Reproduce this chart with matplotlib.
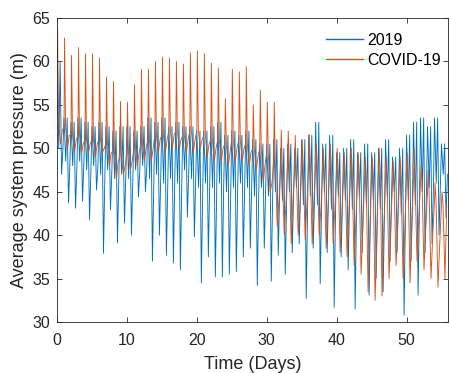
import numpy as np
import matplotlib.pyplot as plt

plt.rcParams['font.family'] = ['Liberation Sans', 'DejaVu Sans']

# per-day readings, days 0..55
days = np.arange(56)

# COVID-19 series: daily spike, base level, daily low, mid level
covid_peak = [64.0, 62.7, 60.7, 61.6, 60.9, 60.9, 60.4, 58.2, 57.7, 55.4,
              55.3, 57.3, 59.1, 59.1, 60.0, 60.5, 60.4, 60.0, 59.7, 61.0,
              61.2, 60.9, 59.8, 59.2, 55.7, 59.1, 58.8, 59.4, 55.0, 56.7,
              55.3, 55.3, 52.1, 52.0, 51.5, 51.0, 51.6, 50.5, 50.0, 50.5,
              50.0, 49.5, 50.0, 49.5, 49.0, 49.0, 50.0, 49.0, 48.5, 49.0,
              49.5, 50.0, 48.0, 47.5, 46.0, 45.0]
covid_base = [53.5, 52.5, 51.5, 51.5, 51.0, 51.0, 51.0, 50.5, 49.5, 49.0,
              49.5, 50.0, 50.5, 51.0, 51.5, 51.5, 52.0, 52.0, 51.5, 52.0,
              52.0, 51.5, 51.0, 51.0, 50.5, 51.0, 51.0, 50.5, 50.0, 50.0,
              49.5, 48.5, 48.0, 48.5, 47.5, 48.0, 48.5, 48.0, 47.5, 48.0,
              47.5, 47.0, 47.5, 47.0, 46.5, 47.0, 47.5, 46.5, 46.0, 46.5,
              47.0, 46.5, 46.0, 45.0, 44.0, 43.5]
covid_low = [50.5, 50.0, 49.5, 49.5, 49.5, 49.0, 49.5, 48.0, 46.5, 47.0,
             47.5, 48.0, 48.5, 48.5, 49.5, 49.5, 50.0, 50.0, 49.5, 49.5,
             50.0, 49.0, 48.5, 48.5, 48.0, 48.5, 48.5, 48.0, 47.5, 46.0,
             45.0, 41.0, 40.0, 39.0, 40.0, 39.5, 39.0, 40.0, 38.5, 39.0,
             38.0, 37.5, 36.5, 35.5, 33.5, 32.5, 33.0, 35.0, 36.5, 35.0,
             34.5, 37.0, 36.0, 35.0, 34.0, 35.0]
covid_mid = [52.0, 51.5, 51.0, 50.5, 50.5, 50.5, 50.0, 49.5, 48.5, 48.0,
             48.5, 49.5, 50.0, 50.0, 51.0, 51.0, 51.5, 51.0, 51.0, 51.0,
             51.0, 50.5, 50.0, 50.0, 49.5, 50.0, 50.0, 49.5, 49.0, 48.0,
             46.0, 44.0, 43.5, 44.0, 43.0, 43.5, 44.0, 43.0, 42.5, 43.0,
             42.0, 42.5, 41.5, 41.0, 40.0, 39.5, 40.5, 41.0, 41.5, 40.5,
             41.0, 42.0, 41.0, 40.0, 39.0, 43.5]

# 2019 series: daily high, secondary dip, deep daily low
y2019_high = [60.0, 53.5, 53.0, 53.5, 53.0, 52.5, 53.0, 52.5, 52.0, 52.5,
              52.5, 52.0, 52.5, 53.5, 53.0, 53.5, 52.5, 53.0, 52.5, 52.5,
              52.0, 52.0, 52.5, 53.0, 51.5, 52.0, 51.5, 52.0, 51.0, 50.5,
              50.5, 51.0, 50.0, 50.5, 50.0, 51.0, 51.5, 53.0, 50.5, 51.5,
              49.5, 50.0, 51.0, 49.5, 50.5, 49.5, 50.0, 51.0, 49.0, 50.0,
              51.5, 53.0, 53.5, 52.5, 53.5, 50.5]
y2019_mid = [50.0, 48.5, 48.0, 48.5, 47.5, 48.0, 47.0, 47.5, 46.5, 47.0,
             46.5, 47.5, 48.0, 46.5, 47.0, 46.0, 46.5, 46.0, 47.5, 46.5,
             45.5, 46.0, 45.5, 46.0, 45.0, 45.5, 46.0, 45.5, 44.5, 45.5,
             44.5, 45.0, 44.0, 45.0, 45.5, 43.5, 44.5, 43.5, 45.0, 43.0,
             44.5, 44.0, 43.0, 44.5, 43.5, 44.0, 43.0, 44.5, 45.0, 42.5,
             44.0, 43.5, 45.0, 45.5, 46.0, 47.0]
y2019_low = [47.0, 43.7, 43.1, 43.9, 41.8, 45.2, 37.9, 42.9, 39.1, 41.4,
             40.0, 44.4, 45.0, 37.0, 40.0, 37.7, 36.8, 36.0, 42.1, 39.8,
             34.5, 37.5, 35.2, 35.2, 35.5, 35.8, 37.5, 38.5, 34.2, 38.5,
             34.7, 37.7, 35.5, 38.0, 39.0, 32.7, 38.5, 34.4, 38.0, 31.7,
             37.5, 36.0, 31.5, 38.0, 33.1, 35.0, 33.5, 37.0, 38.0, 30.8,
             37.0, 33.1, 38.0, 39.0, 40.0, 42.0]

# arrange the daily readings in time order within each day
t_c = np.concatenate([d + np.array([0.0, 0.08, 0.22, 0.5, 0.75]) for d in days])
v_c = np.column_stack([covid_base, covid_peak, covid_base, covid_low, covid_mid]).ravel()
t_b = np.concatenate([d + np.array([0.0, 0.25, 0.45, 0.65, 0.85]) for d in days])
v_b = np.column_stack([y2019_high, y2019_mid, y2019_high, y2019_low, y2019_mid]).ravel()

fig = plt.figure(figsize=(4.51, 3.73), dpi=100)
ax = fig.add_axes([0.1264, 0.1367, 0.868, 0.815])
ax.plot(t_b, v_b, color='#0072BD', lw=0.65, label='2019')
ax.plot(t_c, v_c, color='#D95319', lw=0.65, label='COVID-19')

ax.set_xlim(0, 56)
ax.set_ylim(30, 65)
ax.set_xticks([0, 10, 20, 30, 40, 50])
ax.set_yticks([30, 35, 40, 45, 50, 55, 60, 65])
ax.tick_params(direction='in', top=True, right=True, length=3.5, width=0.6,
               labelsize=11.5, colors='#262626')
ax.tick_params(axis='x', pad=8)
ax.tick_params(axis='y', pad=5)
for s in ax.spines.values():
    s.set_color('#262626')
    s.set_linewidth(0.6)
ax.set_xlabel('Time (Days)', fontsize=13, color='#262626', labelpad=6)
ax.set_ylabel('Average system pressure (m)', fontsize=13, color='#262626', labelpad=3)
leg = ax.legend(loc='upper right', frameon=False, fontsize=11.5, handlelength=2.3,
                handletextpad=0.25, labelspacing=0.3, borderaxespad=0.2,
                bbox_to_anchor=(1.004, 0.982))
for h in leg.get_lines():
    h.set_linewidth(1.0)

fig.savefig('out.png', dpi=100)
